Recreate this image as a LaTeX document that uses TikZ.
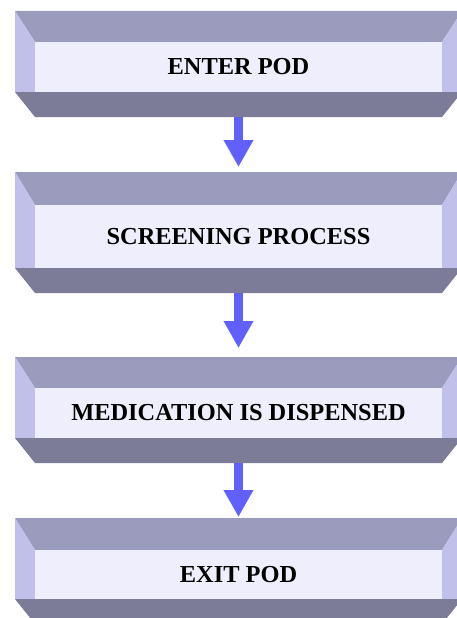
\documentclass[tikz,border=0pt]{standalone}
\usepackage{fontspec}
\setmainfont{Liberation Serif}
\usetikzlibrary{arrows.meta}
\definecolor{bevtop}{RGB}{155,155,189}
\definecolor{bevside}{RGB}{192,192,234}
\definecolor{bevface}{RGB}{238,238,253}
\definecolor{bevbot}{RGB}{124,124,153}
\definecolor{arrowblue}{RGB}{96,96,255}
\tikzset{
	boxtext/.style={font=\bfseries\fontsize{24.4}{27}\selectfont, text=black},
	flowarrow/.style={line width=9pt, draw=arrowblue, fill=arrowblue, -{Triangle[width=28pt,length=27pt]}}
}
% bevelled box: (name)(outer top:inner top:inner bottom:outer bottom){text}
\def\bevelbox(#1)(#2:#3:#4:#5)#6{
	\fill[bevtop] (15,#2) -- (462,#2) -- (442,#3) -- (35,#3) -- cycle;
	\fill[bevside] (15,#2) -- (35,#3) -- (35,#4) -- (15,#4) -- cycle;
	\fill[bevside] (462,#2) -- (442,#3) -- (442,#4) -- (462,#4) -- cycle;
	\fill[bevbot] (15,#4) -- (462,#4) -- (442,#5) -- (35,#5) -- cycle;
	\fill[bevface] (35,#3) rectangle (442,#4);
	\node[boxtext] (#1) at (238.5,{(#3+#4)/2}) {#6};
	\coordinate (#1 top) at (238.5,#2);
	\coordinate (#1 bot) at (238.5,#5);
}

\begin{document}
\begin{tikzpicture}[x=1pt,y=-1pt]
		%%%%% START %%%%%
		\clip (0,0) rectangle (457,618);
		
		\bevelbox(enter)(11:42:92:117){ENTER POD}
		\bevelbox(screening)(172:205:268:293){SCREENING PROCESS}
		\bevelbox(dispense)(357:388:438:463){MEDICATION IS DISPENSED}
		\bevelbox(exit)(518:550:599:624){EXIT POD}
		
		\draw[flowarrow, shorten >=5pt] (enter bot) -- (screening top);
		\draw[flowarrow, shorten >=9pt] (screening bot) -- (dispense top);
		\draw[flowarrow, shorten >=1pt] (dispense bot) -- (exit top);
		
		%%%%% END %%%%%
	\end{tikzpicture}
\end{document}
